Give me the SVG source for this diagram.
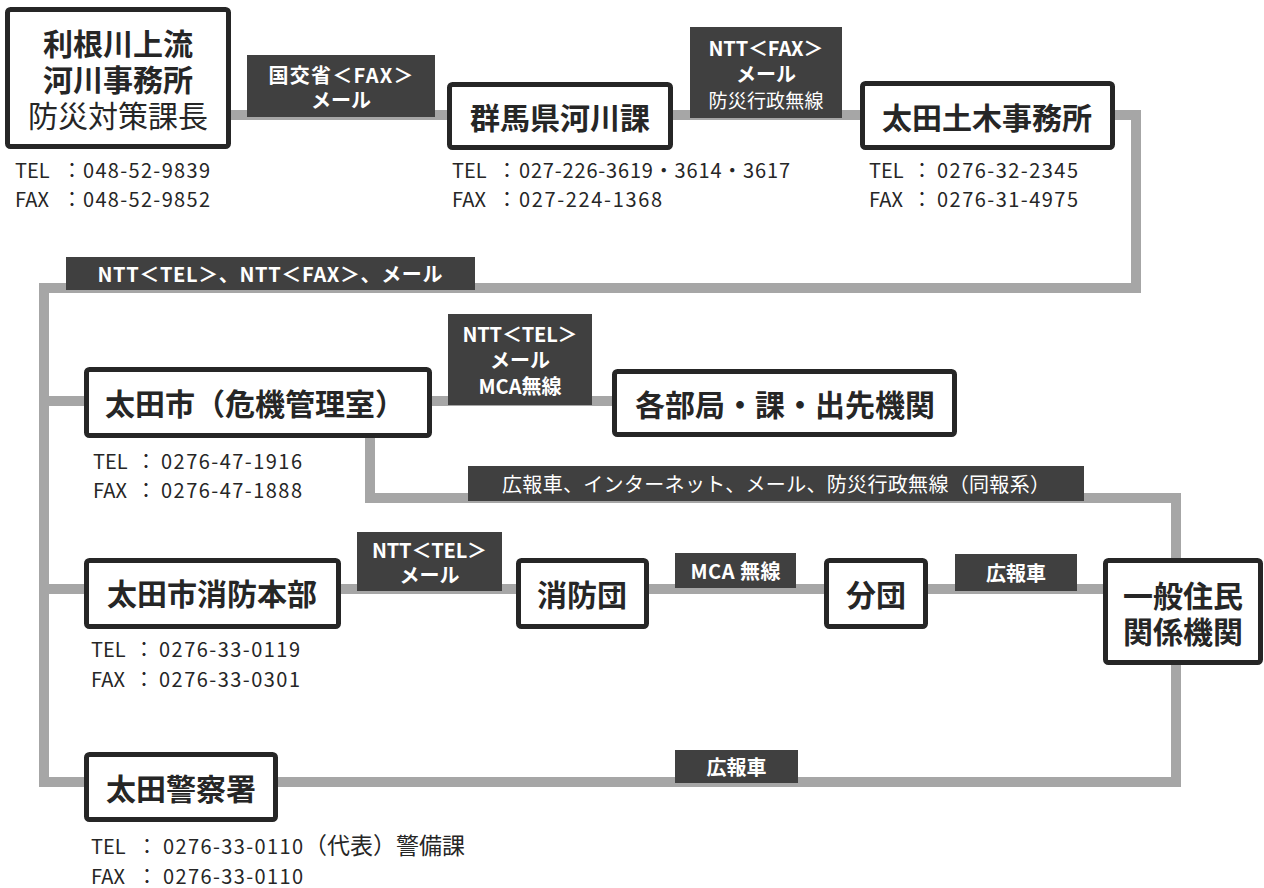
<svg xmlns="http://www.w3.org/2000/svg" width="1264" height="888" viewBox="0 0 1264 888">
<style>
.node rect{fill:#fff;stroke:#262626;stroke-width:5}
.nt{font-family:"Noto Sans CJK JP","Noto Sans",sans-serif;font-weight:700;font-size:30px;fill:#262626;text-anchor:middle;dominant-baseline:central}
.nl{font-weight:400}
.conn path{fill:none;stroke:#a6a6a6;stroke-width:10}
.lab{fill:#404040}
.lt{font-family:"Noto Sans CJK JP","Noto Sans",sans-serif;font-weight:700;font-size:20px;fill:#fff;text-anchor:middle;dominant-baseline:central}
.lr{font-weight:400}
.info{font-family:"Noto Sans CJK JP","Noto Sans",sans-serif;font-size:20px;fill:#262626}
</style>
<rect width="1264" height="888" fill="#fff"/>
<g id="connectors" class="conn">
<path d="M231 115 H1136 V288 H44 V782 H1176 V664"/>
<path d="M44 401 H614"/>
<path d="M370 436 V498 H1176 V558"/>
<path d="M44 589 H1105"/>
<g id="labels">
<rect class="lab" x="247" y="55" width="188" height="62"/>
<text class="lt" font-size="21"><tspan x="341" y="74" textLength="145">国交省＜FAX＞</tspan><tspan x="341" y="99">メール</tspan></text>
<rect class="lab" x="690" y="27" width="152" height="91"/>
<text class="lt"><tspan x="766" y="47" textLength="115">NTT＜FAX＞</tspan><tspan x="766" y="73">メール</tspan><tspan x="766" y="99" font-size="19" font-weight="400" textLength="115">防災行政無線</tspan></text>
<rect class="lab" x="66" y="257" width="409" height="33"/>
<text class="lt" x="270" y="273" textLength="345">NTT＜TEL＞、NTT＜FAX＞、メール</text>
<rect class="lab" x="448" y="314" width="144" height="91"/>
<text class="lt"><tspan x="520" y="333" textLength="115">NTT＜TEL＞</tspan><tspan x="520" y="359">メール</tspan><tspan x="520" y="385">MCA無線</tspan></text>
<rect class="lab" x="468" y="466" width="616" height="35"/>
<text class="lt lr" x="776" y="483" font-size="21" textLength="548">広報車、インターネット、メール、防災行政無線（同報系）</text>
<rect class="lab" x="357" y="532" width="145" height="59"/>
<text class="lt"><tspan x="429.5" y="549" textLength="115">NTT＜TEL＞</tspan><tspan x="429.5" y="574">メール</tspan></text>
<rect class="lab" x="675" y="553" width="121" height="35"/>
<text class="lt" x="735.5" y="570" textLength="90">MCA 無線</text>
<rect class="lab" x="955" y="554" width="122" height="37"/>
<text class="lt" x="1016" y="572" font-size="22">広報車</text>
<rect class="lab" x="675" y="750" width="123" height="33"/>
<text class="lt" x="736.5" y="766" font-size="22">広報車</text>
</g>
</g>
<g id="tone" class="node">
<rect x="7.5" y="9.5" width="221" height="137" rx="3"/>
<text class="nt" font-size="29"><tspan x="118" y="42">利根川上流</tspan><tspan x="118" y="78">河川事務所</tspan><tspan x="118" y="114" font-weight="400">防災対策課長</tspan></text>
<text class="info"><tspan x="15" y="178">TEL</tspan><tspan x="62" y="178">：</tspan><tspan x="83" y="178" textLength="127">048-52-9839</tspan></text>
<text class="info"><tspan x="15" y="207">FAX</tspan><tspan x="62" y="207">：</tspan><tspan x="83" y="207" textLength="127">048-52-9852</tspan></text>
</g>
<g id="gunma" class="node">
<rect x="449.5" y="84.5" width="221" height="63" rx="3"/>
<text class="nt" x="560" y="116">群馬県河川課</text>
<text class="info"><tspan x="452" y="178">TEL</tspan><tspan x="497" y="178">：</tspan><tspan x="519" y="178" textLength="271">027-226-3619・3614・3617</tspan></text>
<text class="info"><tspan x="452" y="207">FAX</tspan><tspan x="497" y="207">：</tspan><tspan x="519" y="207" textLength="143">027-224-1368</tspan></text>
</g>
<g id="doboku" class="node">
<rect x="862.5" y="83.5" width="250" height="64" rx="3"/>
<text class="nt" x="987" y="116">太田土木事務所</text>
<text class="info"><tspan x="869" y="178">TEL</tspan><tspan x="912" y="178">：</tspan><tspan x="937" y="178" textLength="141">0276-32-2345</tspan></text>
<text class="info"><tspan x="869" y="207">FAX</tspan><tspan x="912" y="207">：</tspan><tspan x="937" y="207" textLength="141">0276-31-4975</tspan></text>
</g>
<g id="ota-city" class="node">
<rect x="86.5" y="369.5" width="343" height="66" rx="3"/>
<text class="nt" x="255" y="402">太田市（危機管理室）</text>
<text class="info"><tspan x="93" y="469">TEL</tspan><tspan x="136" y="469">：</tspan><tspan x="161" y="469" textLength="141">0276-47-1916</tspan></text>
<text class="info"><tspan x="93" y="498">FAX</tspan><tspan x="136" y="498">：</tspan><tspan x="161" y="498" textLength="141">0276-47-1888</tspan></text>
</g>
<g id="departments" class="node">
<rect x="614.5" y="371.5" width="340" height="63" rx="3"/>
<text class="nt" x="785" y="403">各部局・課・出先機関</text>
</g>
<g id="fire-hq" class="node">
<rect x="86.5" y="560.5" width="252" height="66" rx="3"/>
<text class="nt" x="212" y="592">太田市消防本部</text>
<text class="info"><tspan x="91" y="657">TEL</tspan><tspan x="134" y="657">：</tspan><tspan x="159" y="657" textLength="141">0276-33-0119</tspan></text>
<text class="info"><tspan x="91" y="687">FAX</tspan><tspan x="134" y="687">：</tspan><tspan x="159" y="687" textLength="141">0276-33-0301</tspan></text>
</g>
<g id="fire-corps" class="node">
<rect x="518.5" y="560.5" width="128" height="66" rx="3"/>
<text class="nt" x="582" y="593">消防団</text>
</g>
<g id="branch" class="node">
<rect x="826.5" y="560.5" width="99" height="66" rx="3"/>
<text class="nt" x="876" y="593">分団</text>
</g>
<g id="residents" class="node">
<rect x="1105.5" y="560.5" width="155" height="102" rx="3"/>
<text class="nt"><tspan x="1183" y="594">一般住民</tspan><tspan x="1183" y="630">関係機関</tspan></text>
</g>
<g id="police" class="node">
<rect x="86.5" y="754.5" width="189" height="65" rx="3"/>
<text class="nt" x="181" y="787">太田警察署</text>
<text class="info"><tspan x="91" y="854">TEL</tspan><tspan x="137" y="854">：</tspan><tspan x="163" y="854" textLength="140">0276-33-0110</tspan><tspan x="304" y="854" font-size="23">（代表）警備課</tspan></text>
<text class="info"><tspan x="91" y="884">FAX</tspan><tspan x="137" y="884">：</tspan><tspan x="163" y="884" textLength="140">0276-33-0110</tspan></text>
</g>
</svg>
